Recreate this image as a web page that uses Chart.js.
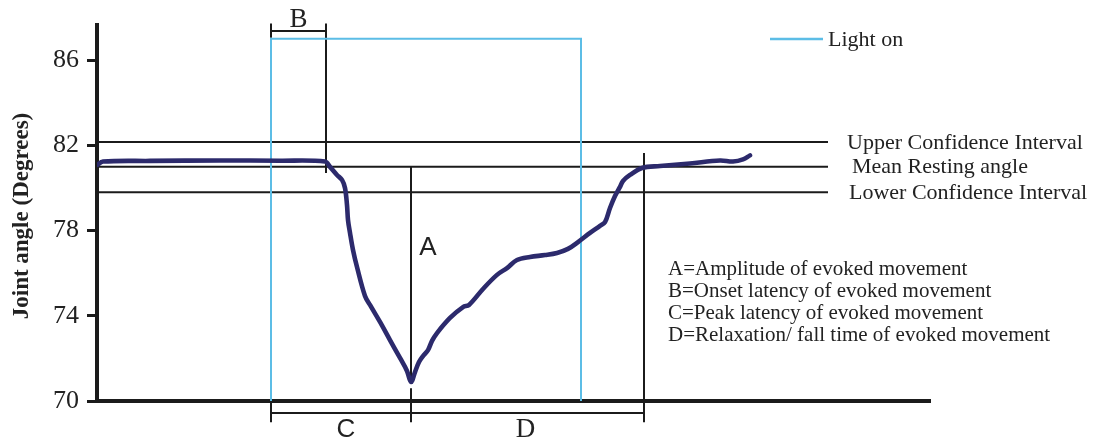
<!DOCTYPE html>
<html>
<head>
<meta charset="utf-8">
<script src="https://cdn.jsdelivr.net/npm/chart.js@4.4.1/dist/chart.umd.min.js"></script>
<style>
  html, body { margin: 0; padding: 0; background: #fff; }
  canvas { display: block; }
</style>
</head>
<body>
<canvas id="chart" width="1093" height="439"></canvas>
<script>
// Recorded joint-angle trace: time (ms) and angle (degrees)
const timeMs = [0, 6, 53, 123, 183, 228, 233, 240, 245, 248, 250, 251, 253, 256, 260, 268, 273,
  283, 293, 303, 310, 314, 318, 322, 326, 331, 335, 340, 353, 366, 372, 386, 400, 410, 420, 433,
  448, 460, 471, 481, 493, 503, 508, 513, 518, 523, 526, 533, 545, 563, 593, 623, 636, 646, 653];
const jointAngle = [81.08, 81.24, 81.27, 81.29, 81.28, 81.24, 80.99, 80.61, 80.38, 80.0, 79.2, 78.5,
  77.89, 77.09, 76.29, 74.93, 74.51, 73.71, 72.86, 72.02, 71.41, 70.89, 71.36, 71.83, 72.11, 72.39,
  72.82, 73.19, 73.9, 74.41, 74.51, 75.26, 75.92, 76.24, 76.62, 76.76, 76.85, 76.95, 77.14, 77.46,
  77.89, 78.22, 78.4, 79.06, 79.62, 80.05, 80.33, 80.61, 80.94, 81.03, 81.15, 81.29, 81.24, 81.34, 81.53];

const yTicks = [70, 74, 78, 82, 86];

// Light stimulus window (ms) and the level its trace is drawn at
const lightOnWindow = [174, 484];
const lightOnLevel = 87;

// Resting-angle statistics (degrees)
const upperCI = 82.16;
const meanResting = 81.0;
const lowerCI = 79.8;
const statsEndMs = 731;

// Response timing markers (ms)
const onsetMs = 229;
const peakMs = 314;
const relaxEndMs = 547;

const statLabels = ['Upper Confidence Interval', 'Mean Resting angle', 'Lower Confidence Interval'];
const noteLines = [
  'A=Amplitude of evoked movement',
  'B=Onset latency of evoked movement',
  'C=Peak latency of evoked movement',
  'D=Relaxation/ fall time of evoked movement'
];

const INK = '#1b1b1b';
const TRACE = '#2c2a6c';
const LIGHT = '#5cbde6';

const trace = timeMs.map((t, i) => ({ x: t, y: jointAngle[i] }));

function seg(x1, y1, x2, y2, color, width) {
  return {
    data: [{ x: x1, y: y1 }, { x: x2, y: y2 }],
    borderColor: color || INK,
    borderWidth: width || 2,
    pointRadius: 0,
    tension: 0,
    clip: false
  };
}

// bracket geometry (degrees) for the timing markers
const topBracket = 87.37, topTickHi = 87.72, topTickLo = 87.05;
const lowBracket = 69.44, lowTickHi = 69.95, lowTickLo = 69.0;

const datasets = [
  {
    data: trace,
    borderColor: TRACE,
    borderWidth: 4.6,
    pointRadius: 0,
    tension: 0.35,
    borderCapStyle: 'round',
    borderJoinStyle: 'round'
  },
  {
    data: [
      { x: lightOnWindow[0], y: 70 }, { x: lightOnWindow[0], y: lightOnLevel },
      { x: lightOnWindow[1], y: lightOnLevel }, { x: lightOnWindow[1], y: 70 }
    ],
    borderColor: LIGHT, borderWidth: 2, pointRadius: 0, tension: 0, clip: false
  },
  seg(0, upperCI, statsEndMs, upperCI),
  seg(0, meanResting, statsEndMs, meanResting),
  seg(0, lowerCI, statsEndMs, lowerCI),
  // B: onset latency bracket
  seg(lightOnWindow[0], topBracket, onsetMs, topBracket),
  seg(lightOnWindow[0], topTickHi, lightOnWindow[0], topTickLo),
  seg(onsetMs, topTickHi, onsetMs, 80.7),
  // A: amplitude marker
  seg(peakMs, meanResting, peakMs, 70.85),
  seg(peakMs, 70.6, peakMs, lowTickLo),
  // C / D brackets below the axis
  seg(lightOnWindow[0], lowBracket, relaxEndMs, lowBracket),
  seg(lightOnWindow[0], lowTickHi, lightOnWindow[0], lowTickLo),
  seg(relaxEndMs, 81.64, relaxEndMs, lowTickLo)
];

const annotations = {
  id: 'annotations',
  afterDatasetsDraw(chart) {
    const { ctx, scales: { x, y } } = chart;
    ctx.save();
    ctx.fillStyle = '#222';
    ctx.textBaseline = 'middle';

    // axis title
    ctx.save();
    ctx.translate(22, 216);
    ctx.rotate(-Math.PI / 2);
    ctx.textAlign = 'center';
    ctx.font = 'bold 23px "Liberation Serif"';
    ctx.fillText('Joint angle (Degrees)', 0, 0);
    ctx.restore();

    // statistics labels
    ctx.textAlign = 'left';
    ctx.font = '22px "Liberation Serif"';
    const endPx = x.getPixelForValue(statsEndMs);
    ctx.fillText(statLabels[0], endPx + 19, y.getPixelForValue(upperCI) + 1);
    ctx.fillText(statLabels[1], endPx + 24, y.getPixelForValue(meanResting) + 1);
    ctx.fillText(statLabels[2], endPx + 21, y.getPixelForValue(lowerCI) + 1);

    // legend
    ctx.strokeStyle = LIGHT;
    ctx.lineWidth = 2.5;
    ctx.beginPath();
    ctx.moveTo(770, 39);
    ctx.lineTo(823, 39);
    ctx.stroke();
    ctx.fillText('Light on', 828, 40);

    // notes
    ctx.font = '21px "Liberation Serif"';
    noteLines.forEach((t, i) => ctx.fillText(t, 668, 269 + i * 22));

    // marker letters
    ctx.textAlign = 'center';
    ctx.font = '27px "Liberation Serif"';
    ctx.fillText('B', (x.getPixelForValue(lightOnWindow[0]) + x.getPixelForValue(onsetMs)) / 2, 20);
    ctx.fillText('D', (x.getPixelForValue(peakMs) + x.getPixelForValue(relaxEndMs)) / 2 - 2, 430);
    ctx.font = '26px "Liberation Sans"';
    ctx.fillText('A', x.getPixelForValue(peakMs) + 17, 248);
    ctx.fillText('C', (x.getPixelForValue(lightOnWindow[0]) + x.getPixelForValue(peakMs)) / 2 + 5, 430);
    ctx.restore();
  }
};

new Chart(document.getElementById('chart'), {
  type: 'line',
  data: { datasets },
  options: {
    responsive: false,
    animation: false,
    devicePixelRatio: 1,
    layout: { padding: { top: 25, right: 163, left: 0, bottom: 0 } },
    plugins: { legend: { display: false }, tooltip: { enabled: false } },
    scales: {
      x: {
        type: 'linear',
        min: 0,
        max: 833,
        ticks: { display: false },
        grid: { display: false },
        border: { display: true, width: 4, color: INK },
        afterFit(scale) { scale.height = 38; }
      },
      y: {
        min: 70,
        max: 87.65,
        afterBuildTicks(scale) { scale.ticks = yTicks.map(v => ({ value: v })); },
        ticks: {
          color: '#222',
          font: { family: '"Liberation Serif"', size: 26 },
          padding: 8
        },
        grid: { drawOnChartArea: false, drawTicks: true, tickLength: 10, lineWidth: 3, color: INK },
        border: { display: true, width: 4, color: INK },
        afterFit(scale) { scale.width = 97; }
      }
    }
  },
  plugins: [annotations]
});
</script>
</body>
</html>
